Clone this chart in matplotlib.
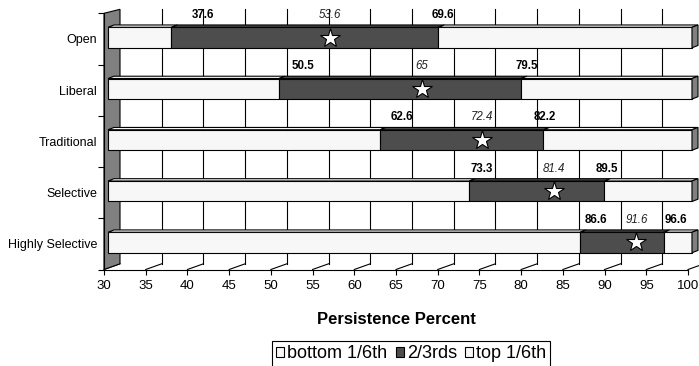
import matplotlib
matplotlib.use('Agg')
import matplotlib.pyplot as plt
from matplotlib.patches import Polygon, Patch

plt.rcParams['font.family'] = ['Liberation Sans', 'DejaVu Sans']

# Dados
categories = ['Open', 'Liberal', 'Traditional', 'Selective', 'Highly Selective']
lower_cut = [37.6, 50.5, 62.6, 73.3, 86.6]     # fim do 1/6 inferior
upper_cut = [69.6, 79.5, 82.2, 89.5, 96.6]     # inicio do 1/6 superior
mean_mark = [53.6, 65, 72.4, 81.4, 91.6]       # estrelas (rotulos em italico)
x_ticks = list(range(30, 101, 5))
series_names = ['bottom 1/6th', '2/3rds', 'top 1/6th']

LIGHT = '#f7f7f7'
DARK = '#4d4d4d'
WALL = '#808080'

W, H = 699, 366
XMIN, XMAX = 30, 100
n = len(categories)

fig = plt.figure(figsize=(W / 100, H / 100), dpi=100)
fig.patch.set_facecolor('white')

# area do grafico (plano das barras), em pixels
x0_px, x1_px = 108, 692
y0_px, y1_px = 11.9, 268.1
ax = fig.add_axes([x0_px / W, 1 - y1_px / H, (x1_px - x0_px) / W, (y1_px - y0_px) / H])
ax.set_xlim(XMIN, XMAX)
ax.set_ylim(n - 0.5, -0.5)
ax.axis('off')

sx = (x1_px - x0_px) / (XMAX - XMIN)
sy = (y1_px - y0_px) / n


def shift(x, y, px, py):
    # desloca um ponto por (px, py) pixels (py positivo = para baixo)
    return (x + px / sx, y + py / sy)


BACK = (12, -4.3)
BACK_TOP = (12, -2.6)
FRONT = (-4, 1.4)
DEPTH = (6, -2.3)

# parede do fundo (linhas de grade)
for v in x_ticks[1:]:
    xa, ya = shift(v, -0.5, *BACK_TOP)
    xb, yb = shift(v, n - 0.5, *BACK)
    ax.plot([xa, xb], [ya, yb], color='black', lw=0.8, clip_on=False, zorder=1)

# piso (diagonais)
for v in x_ticks:
    f = shift(v, n - 0.5, *FRONT)
    b = shift(v, n - 0.5, *BACK)
    ax.plot([f[0], b[0]], [f[1], b[1]], color='black', lw=0.8, clip_on=False, zorder=1)

# parede lateral esquerda
wall = Polygon([shift(XMIN, -0.5, *FRONT), shift(XMIN, -0.5, *BACK_TOP),
                shift(XMIN, n - 0.5, *BACK), shift(XMIN, n - 0.5, *FRONT)],
               closed=True, facecolor=WALL, edgecolor='black', lw=0.8,
               clip_on=False, zorder=1.5)
ax.add_patch(wall)

# barras empilhadas
ypos = list(range(n))
bar_h = 20.5 / sy
seg_left = [[XMIN] * n, lower_cut, upper_cut]
seg_right = [lower_cut, upper_cut, [XMAX] * n]
colors = [LIGHT, DARK, LIGHT]

for k in range(3):
    widths = [r - l for l, r in zip(seg_left[k], seg_right[k])]
    bars = ax.barh(ypos, widths, left=seg_left[k], height=bar_h, color=colors[k],
                   edgecolor='black', linewidth=0.8, zorder=3)
    for p in bars:
        p.set_clip_on(False)
    # face superior (efeito 3D)
    for i in ypos:
        a, b = seg_left[k][i], seg_right[k][i]
        top = i - bar_h / 2
        face = Polygon([(a, top), (b, top), shift(b, top, *DEPTH), shift(a, top, *DEPTH)],
                       closed=True, facecolor=colors[k], edgecolor='black', lw=0.8,
                       clip_on=False, zorder=3)
        ax.add_patch(face)

# tampa lateral direita das barras
for i in ypos:
    top, bot = i - bar_h / 2, i + bar_h / 2
    cap = Polygon([(XMAX, top), shift(XMAX, top, *DEPTH), shift(XMAX, bot, *DEPTH), (XMAX, bot)],
                  closed=True, facecolor=WALL, edgecolor='black', lw=0.8,
                  clip_on=False, zorder=3)
    ax.add_patch(cap)

# rotulos em negrito (ajuste manual em pixels, como no original)
nudge_lo = [32, 24, 21.5, 12.5, 15.5]
nudge_hi = [5, 5.5, 1, 2.5, 12]
label_dy = -22.5 / sy
for i in ypos:
    ax.text(lower_cut[i] + nudge_lo[i] / sx, i + label_dy, f'{lower_cut[i]:g}',
            ha='center', va='center', fontsize=8.3, fontweight='bold', zorder=4)
    ax.text(upper_cut[i] + nudge_hi[i] / sx, i + label_dy, f'{upper_cut[i]:g}',
            ha='center', va='center', fontsize=8.3, fontweight='bold', zorder=4)

# estrelas em eixo secundario
ax_star = ax.twiny()
ax_star.set_xlim(26.0, 98.5)
ax_star.axis('off')
ax_star.plot(mean_mark, ypos, linestyle='none', marker='*', ms=15,
             mfc='white', mec='black', mew=0.8, zorder=5, clip_on=False)
for i in ypos:
    ax_star.text(mean_mark[i], i + label_dy, f'{mean_mark[i]:g}', ha='center', va='center',
                 fontsize=8.3, style='italic', color='#222222')

# eixos do plano da frente
fx = fig.add_axes([(x0_px - 4) / W, 1 - (y1_px + 1.4) / H, (x1_px - x0_px) / W,
                   (y1_px - y0_px) / H], zorder=5)
fx.set_xlim(XMIN, XMAX)
fx.set_ylim(n - 0.5, -0.5)
fx.patch.set_visible(False)
fx.spines[['top', 'right']].set_visible(False)
for s in ['left', 'bottom']:
    fx.spines[s].set_linewidth(0.8)
fx.set_xticks(x_ticks)
fx.tick_params(axis='x', length=3.6, width=0.8, pad=4, labelsize=9.5)
fx.set_yticks([k - 0.5 for k in range(n + 1)])
fx.set_yticklabels([])
fx.set_yticks(ypos, categories, minor=True)
fx.tick_params(axis='y', which='major', length=4.3, width=0.8)
fx.tick_params(axis='y', which='minor', length=0, pad=5, labelsize=9)
fx.set_xlabel('Persistence Percent', fontsize=12, fontweight='bold')
fx.xaxis.set_label_coords(0.5, -0.164)

# legenda
handles = [Patch(facecolor=c, edgecolor='black', linewidth=0.8) for c in colors]
leg = fig.legend(handles, series_names, loc='upper center',
                 bbox_to_anchor=(411.2 / W, 1 - 341 / H), ncol=3, fontsize=13,
                 frameon=True, fancybox=False, edgecolor='black', framealpha=1,
                 borderaxespad=0, borderpad=0.24, handlelength=0.45, handleheight=0.55,
                 handletextpad=0.17, columnspacing=0.44)
leg.get_frame().set_linewidth(0.8)

fig.savefig('out.png', dpi=100)
